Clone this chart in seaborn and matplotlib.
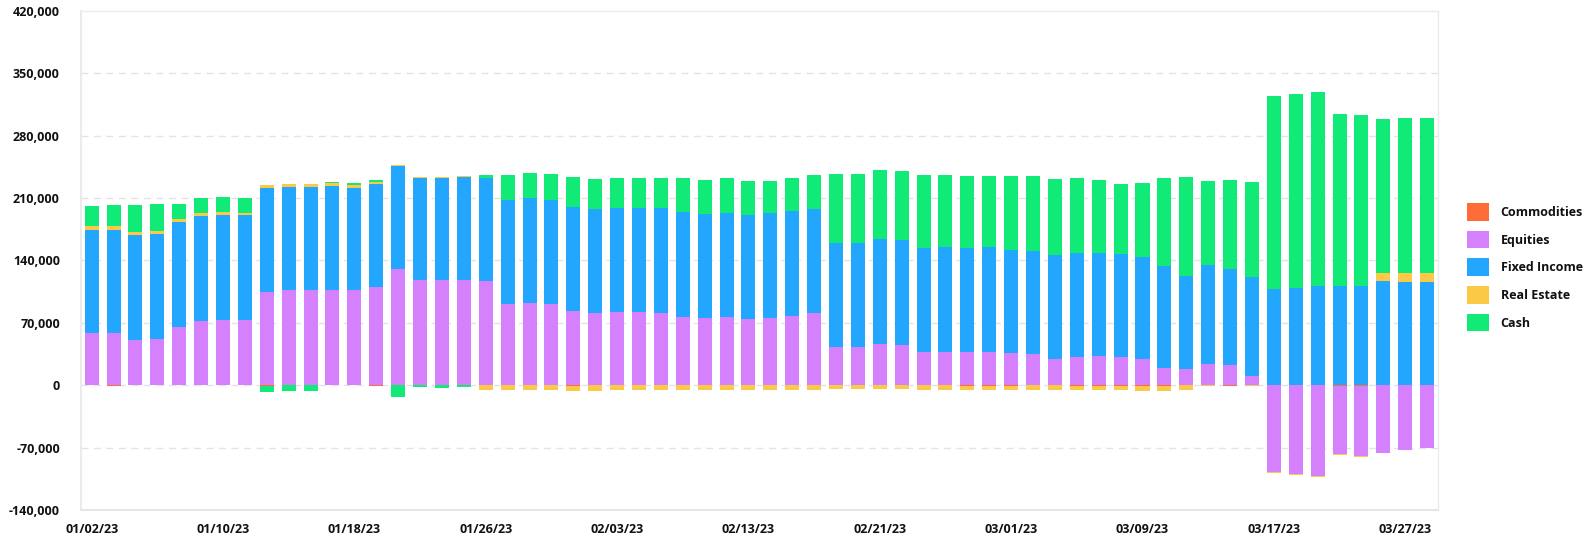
import numpy as np
import pandas as pd
import matplotlib
matplotlib.use("Agg")
import matplotlib.pyplot as plt
import matplotlib.ticker as mticker
from matplotlib.patches import Patch
import seaborn as sns

# business days 01/02/23 .. 03/28/23
dates = pd.bdate_range("2023-01-02", "2023-03-28")
labels = [d.strftime("%m/%d/%y") for d in dates]

commodities = [0, -800, 0, 0, 0, 0, 0, 0, -600, 0, 0, 0, 0, -500, 0, 0,
               0, 0, 0, 0, 0, 0, -700, 0, 0, 0, 0, 0, 0, 0, 0, 0,
               0, 0, 0, 0, 0, 0, 0, 0, -500, -500, -500, 0, 0, -500, -500, -500,
               -1000, -1000, 0, 0, -500, 0, 0, 800, 800, -1100, -1100, 0, 800, 0]
equities = [59000, 58200, 51100, 52300, 65700, 72400, 73500, 73500, 104900, 107100, 107100, 107100,
            107100, 110500, 130700, 118000, 118000, 118000, 116800, 91100, 92200, 91100, 83200, 81000,
            82100, 82100, 81000, 76500, 75400, 76500, 74300, 75400, 77600, 81000, 42900, 42900,
            46300, 45200, 37300, 37300, 37300, 37300, 36200, 35100, 29500, 31700, 32900, 31700,
            29500, 19400, 18300, 23900, 23100, 10800, -97800, -100000, -102300, -76500, -78800, -76500,
            -73200, -70900]
fixed_income = [115700, 116500, 117600, 117600, 117600, 117600, 117600, 117600, 116500, 115400, 115400, 116500,
                114300, 115300, 115300, 114200, 114200, 115300, 115400, 116500, 117600, 116500, 116500, 116500,
                116500, 116500, 117600, 117600, 116500, 116500, 116500, 117600, 117600, 116500, 116500, 116500,
                117600, 117600, 116500, 117600, 116500, 117600, 115400, 115300, 116500, 116500, 115300, 115400,
                114200, 114200, 104100, 110900, 107600, 110900, 108300, 108300, 110800, 111600, 111600, 117200,
                115300, 116100]
real_estate = [4100, 4100, 3400, 3300, 3400, 3400, 3400, 2300, 3300, 3300, 3300, 3400,
               3300, 2300, 1100, 1100, 1100, 1100, -5200, -5200, -5200, -5200, -5600, -6300,
               -5200, -5200, -5200, -5200, -5200, -5200, -5200, -5200, -5200, -5200, -4100, -4100,
               -4100, -4100, -5200, -5200, -5200, -5200, -5200, -5200, -5200, -5200, -5200, -5200,
               -5200, -5200, -4800, -1100, -800, -1100, -1100, -1100, -1100, -1100, -1100, 9000,
               10100, 10100]
cash = [22400, 23500, 30200, 30300, 16800, 16800, 16800, 16800, -6700, -6700, -6700, 1100,
        2300, 2200, -13400, -2500, -3000, -2200, 3300, 27900, 28000, 29100, 33600, 33600,
        33600, 33600, 33600, 38100, 38100, 39200, 38000, 35800, 37000, 38000, 77300, 77300,
        77300, 77200, 81700, 80600, 80600, 79500, 82800, 84000, 85100, 84000, 81800, 78400,
        82900, 98600, 110900, 94000, 99600, 106400, 216100, 217200, 217300, 192600, 191500, 172400,
        173600, 173600]

series = {
    "Commodities": commodities,
    "Equities": equities,
    "Fixed Income": fixed_income,
    "Real Estate": real_estate,
    "Cash": cash,
}
colors = {
    "Commodities": "#FE6C37",
    "Equities": "#D580FC",
    "Fixed Income": "#23A7FE",
    "Real Estate": "#FCC947",
    "Cash": "#12EA77",
}

sns.set_style("white")
plt.rcParams["font.family"] = ["Open Sans", "DejaVu Sans"]

fig = plt.figure(figsize=(15.89, 5.41), dpi=100)
ax = fig.add_axes([0.0508, 0.0573, 0.8542, 0.9224])

n = len(labels)
pos = np.zeros(n)
neg = np.zeros(n)
for name, vals in series.items():
    vals = np.array(vals, dtype=float)
    bottom = np.where(vals >= 0, pos, neg)
    sns.barplot(x=labels, y=vals, bottom=bottom, color=colors[name], saturation=1,
                width=0.64, errorbar=None, linewidth=0, ax=ax, zorder=3)
    pos += np.clip(vals, 0, None)
    neg += np.clip(vals, None, 0)

ax.set_xlim(-0.5, n - 0.5)
ax.set_ylim(-140000, 420000)
ax.set_yticks(np.arange(-140000, 420001, 70000))
ax.yaxis.set_major_formatter(mticker.FuncFormatter(lambda v, p: f"{int(v):,}"))
ax.set_xticks(range(0, n, 6))
ax.set_xticklabels([labels[i] for i in range(0, n, 6)])

for v in np.arange(-70000, 350001, 70000):
    ax.axhline(v, color="#e3e3e3", linestyle=(0, (5, 4)), linewidth=1, zorder=1)

for side in ["left", "right", "top"]:
    ax.spines[side].set_color("#ebebeb")
    ax.spines[side].set_linewidth(1)
ax.spines["left"].set_linewidth(1.5)
ax.spines["bottom"].set_color("#e6e6e6")
ax.spines["bottom"].set_linewidth(1.5)

ax.tick_params(axis="both", length=0, labelsize=9, colors="#111111")
ax.tick_params(axis="y", pad=15)
ax.tick_params(axis="x", pad=9)
for lbl in ax.get_xticklabels() + ax.get_yticklabels():
    lbl.set_fontweight("bold")
ax.set_xlabel("")
ax.set_ylabel("")

handles = [Patch(facecolor=colors[k], edgecolor="none", label=k) for k in series]
leg = fig.legend(handles=handles, loc="center left", bbox_to_anchor=(0.9232, 0.506),
                 frameon=False, fontsize=9, handlelength=1.8, handleheight=1.8,
                 labelspacing=0.8, handletextpad=0.9, borderpad=0, borderaxespad=0)
for t in leg.get_texts():
    t.set_fontweight("bold")
    t.set_color("#111111")

plt.savefig("out.png", dpi=100)
plt.close()
